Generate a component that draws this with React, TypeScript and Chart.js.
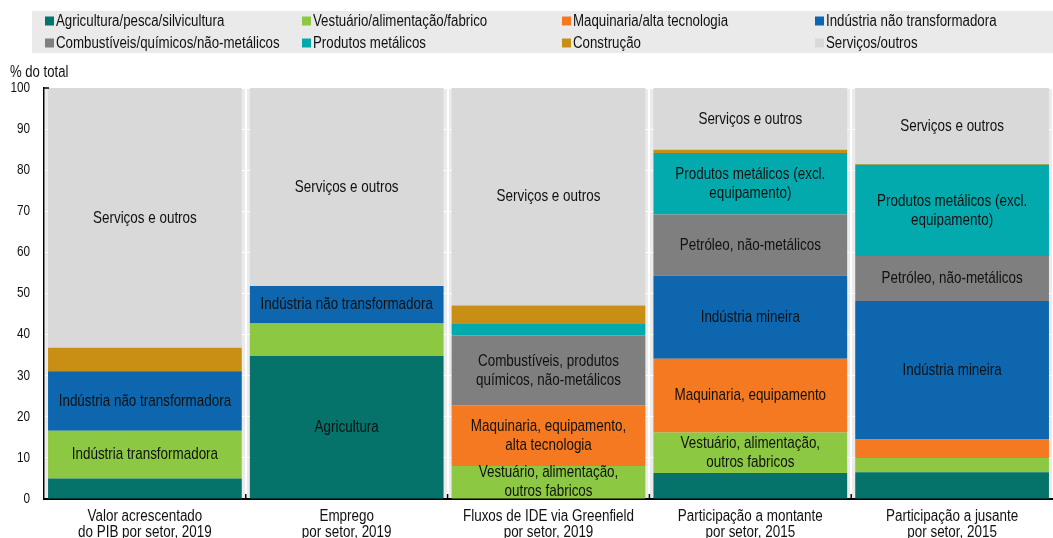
import React, { useEffect, useRef } from "react";
import { Chart, registerables } from "chart.js";

Chart.register(...registerables);

const FONT = "'Liberation Sans', Arial, sans-serif";

const categories: string[][] = [
  ["Valor acrescentado", "do PIB por setor, 2019"],
  ["Emprego", "por setor, 2019"],
  ["Fluxos de IDE via Greenfield", "por setor, 2019"],
  ["Participação a montante", "por setor, 2015"],
  ["Participação a jusante", "por setor, 2015"],
];

const seriesNames = [
  "Agricultura/pesca/silvicultura",
  "Vestuário/alimentação/fabrico",
  "Maquinaria/alta tecnologia",
  "Indústria não transformadora",
  "Combustíveis/químicos/não-metálicos",
  "Produtos metálicos",
  "Construção",
  "Serviços/outros",
];

const seriesColors = [
  "#06736a",
  "#8cc841",
  "#f47920",
  "#0d66ae",
  "#7f7f7f",
  "#02aaad",
  "#c98f14",
  "#d9d9d9",
];

const agricultura = [5.0, 34.8, 0, 6.3, 6.5];
const vestuario = [11.6, 7.9, 8.0, 9.9, 3.5];
const maquinaria = [0, 0, 14.8, 17.9, 4.5];
const naoTransformadora = [14.5, 9.1, 0, 20.2, 33.7];
const combustiveis = [0, 0, 17.0, 14.9, 10.9];
const metalicos = [0, 0, 2.8, 15.0, 22.2];
const construcao = [5.7, 0, 4.5, 0.8, 0.2];
const servicos = [63.2, 48.2, 52.9, 15.0, 18.5];

type Lbl = string | string[];
const labelsAgricultura: Lbl[] = ["", "Agricultura", "", "", ""];
const labelsVestuario: Lbl[] = [
  "Indústria transformadora",
  "",
  ["Vestuário, alimentação,", "outros fabricos"],
  ["Vestuário, alimentação,", "outros fabricos"],
  "",
];
const labelsMaquinaria: Lbl[] = ["", "", ["Maquinaria, equipamento,", "alta tecnologia"], "Maquinaria, equipamento", ""];
const labelsNaoTransformadora: Lbl[] = [
  "Indústria não transformadora",
  "Indústria não transformadora",
  "",
  "Indústria mineira",
  "Indústria mineira",
];
const labelsCombustiveis: Lbl[] = [
  "",
  "",
  ["Combustíveis, produtos", "químicos, não-metálicos"],
  "Petróleo, não-metálicos",
  "Petróleo, não-metálicos",
];
const labelsMetalicos: Lbl[] = [
  "",
  "",
  "",
  ["Produtos metálicos (excl.", "equipamento)"],
  ["Produtos metálicos (excl.", "equipamento)"],
];
const labelsConstrucao: Lbl[] = ["", "", "", "", ""];
const labelsServicos: Lbl[] = Array(5).fill("Serviços e outros");

const yTicks = [0, 10, 20, 30, 40, 50, 60, 70, 80, 90, 100];
const yTitle = "% do total";

const seriesValues = [agricultura, vestuario, maquinaria, naoTransformadora, combustiveis, metalicos, construcao, servicos];
const seriesLabels = [
  labelsAgricultura,
  labelsVestuario,
  labelsMaquinaria,
  labelsNaoTransformadora,
  labelsCombustiveis,
  labelsMetalicos,
  labelsConstrucao,
  labelsServicos,
];

function narrowText(
  ctx: CanvasRenderingContext2D,
  text: string,
  x: number,
  y: number,
  size: number,
  align: CanvasTextAlign,
  sx: number
) {
  ctx.save();
  ctx.font = `${size}px ${FONT}`;
  ctx.textAlign = align;
  ctx.textBaseline = "middle";
  ctx.translate(x, y);
  ctx.scale(sx, 1);
  ctx.fillText(text, 0, 0);
  ctx.restore();
}

const decorPlugin = {
  id: "decor",
  beforeDraw(chart: any) {
    const { ctx, chartArea } = chart;
    ctx.save();
    ctx.fillStyle = "#ebebeb";
    ctx.fillRect(chartArea.left, chartArea.top, chartArea.right - chartArea.left, chartArea.bottom - chartArea.top);
    ctx.restore();
  },
  afterDraw(chart: any) {
    const { ctx, chartArea } = chart;
    const xs = chart.scales.x;
    const ys = chart.scales.y;
    ctx.save();
    ctx.fillStyle = "#111";
    // segment labels
    chart.data.datasets.forEach((ds: any, di: number) => {
      const meta = chart.getDatasetMeta(di);
      meta.data.forEach((el: any, i: number) => {
        const lbl = ds.segLabels[i];
        if (!lbl) return;
        const lines = Array.isArray(lbl) ? lbl : [lbl];
        const cy = (el.y + el.base) / 2;
        const lh = 19;
        lines.forEach((t: string, k: number) => {
          narrowText(ctx, t, el.x, cy + (k - (lines.length - 1) / 2) * lh, 17, "center", 0.79);
        });
      });
    });
    // y tick labels
    yTicks.forEach((v) => {
      narrowText(ctx, String(v), chartArea.left - 14, ys.getPixelForValue(v), 14, "right", 0.84);
    });
    // x category labels
    categories.forEach((lines, i) => {
      const cx = xs.getPixelForValue(i);
      lines.forEach((t, k) => {
        narrowText(ctx, t, cx, chartArea.bottom + 17.5 + k * 16, 16, "center", 0.84);
      });
    });
    // inward ticks on x axis at category boundaries
    ctx.strokeStyle = "#000";
    ctx.lineWidth = 1.5;
    for (let i = 1; i < categories.length; i++) {
      const bx = (xs.getPixelForValue(i - 1) + xs.getPixelForValue(i)) / 2;
      ctx.beginPath();
      ctx.moveTo(bx, chartArea.bottom);
      ctx.lineTo(bx, chartArea.bottom - 5);
      ctx.stroke();
    }
    ctx.beginPath();
    ctx.moveTo(chartArea.left, chartArea.top);
    ctx.lineTo(chartArea.left + 5, chartArea.top);
    ctx.stroke();
    // y title
    narrowText(ctx, yTitle, 10, 73, 16, "left", 0.82);
    // legend
    ctx.fillStyle = "#eaeaea";
    ctx.fillRect(32, 11, chart.width - 32, 42);
    const colX = [45, 302, 562, 815];
    const rowY = [21, 43];
    chart.data.datasets.forEach((ds: any, di: number) => {
      const x = colX[di % 4];
      const y = rowY[Math.floor(di / 4)];
      ctx.fillStyle = ds.backgroundColor;
      ctx.fillRect(x, y - 4.5, 9, 9);
      ctx.fillStyle = "#111";
      narrowText(ctx, ds.label, x + 11, y + 0.5, 16, "left", 0.83);
    });
    ctx.restore();
  },
};

export default function App() {
  const ref = useRef<HTMLCanvasElement | null>(null);
  useEffect(() => {
    document.body.style.margin = "0";
    if (!ref.current) return;
    const chart = new Chart(ref.current, {
      type: "bar",
      data: {
        labels: categories,
        datasets: seriesNames.map((name, i) => ({
          label: name,
          data: seriesValues[i],
          backgroundColor: seriesColors[i],
          borderWidth: 0,
          barPercentage: 0.96,
          categoryPercentage: 1,
          segLabels: seriesLabels[i],
        })) as any,
      },
      options: {
        responsive: false,
        animation: false,
        devicePixelRatio: 1,
        layout: { padding: { top: 88, left: 0, right: 0, bottom: 0 } },
        plugins: { legend: { display: false }, tooltip: { enabled: false } },
        scales: {
          x: {
            stacked: true,
            grid: { color: "#ffffff", lineWidth: 2, offset: true, drawTicks: false },
            border: { color: "#000", width: 2 },
            ticks: { display: false },
            afterFit: (s: any) => {
              s.height = 39;
            },
          },
          y: {
            stacked: true,
            min: 0,
            max: 100,
            afterBuildTicks: (s: any) => {
              s.ticks = yTicks.map((v) => ({ value: v }));
            },
            grid: { color: "#ffffff", lineWidth: 1, drawTicks: false },
            border: { color: "#000", width: 1.5 },
            ticks: { display: false },
            afterFit: (s: any) => {
              s.width = 44;
            },
          },
        },
      },
      plugins: [decorPlugin],
    });
    return () => chart.destroy();
  }, []);
  return (
    <div style={{ width: 1053, height: 538 }}>
      <canvas ref={ref} width={1053} height={538} style={{ display: "block" }} />
    </div>
  );
}
